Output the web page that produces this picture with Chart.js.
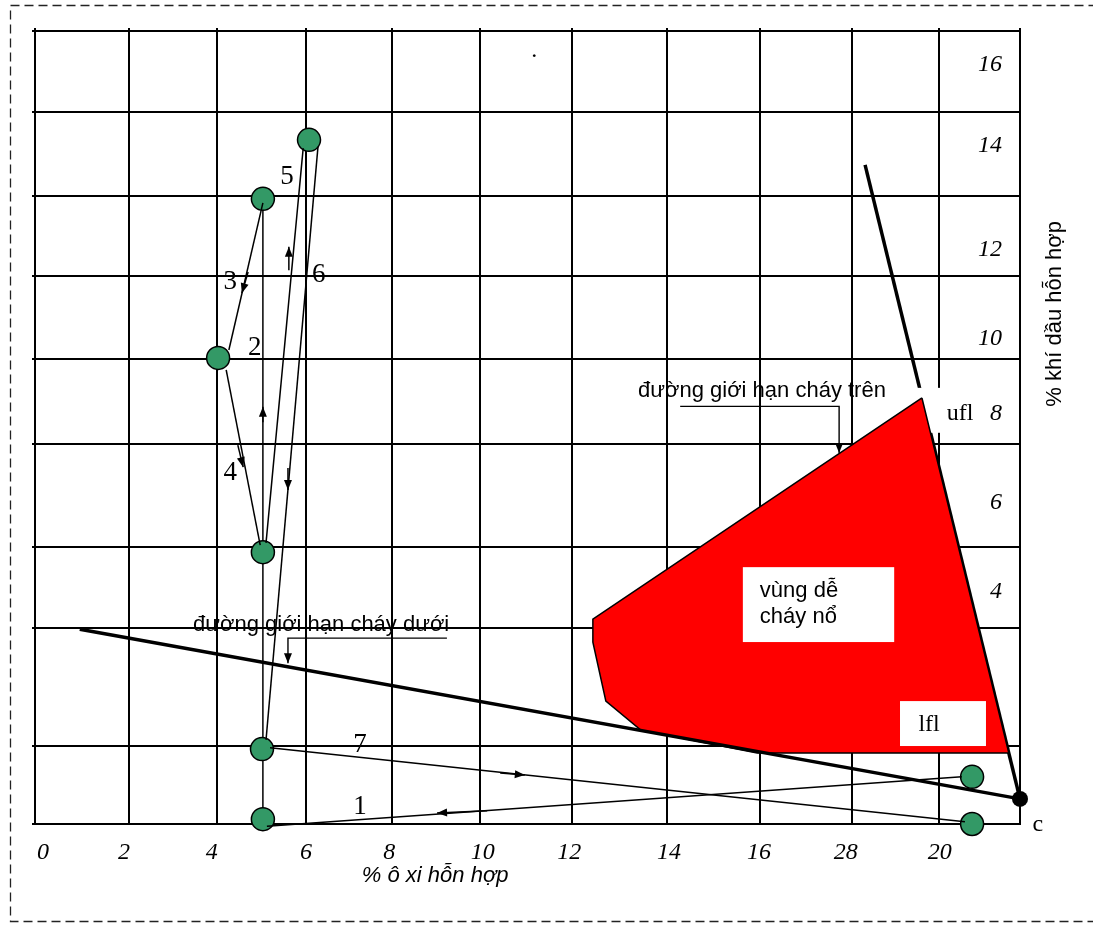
<!DOCTYPE html>
<html>
<head>
<meta charset="utf-8">
<script src="https://cdn.jsdelivr.net/npm/chart.js@4.4.1/dist/chart.umd.min.js"></script>
<style>
  html, body { margin: 0; padding: 0; background: #fff; }
  #wrap { width: 1093px; height: 927px; position: relative; }
</style>
</head>
<body>
<div id="wrap"><canvas id="chart-flam"></canvas></div>
<script>
// grid lines, in axis units, where the figure has them (uneven)
const xGridAt = [0, 2.1, 4.07, 6.05, 7.97, 9.94, 11.99, 14.12, 16.19, 18.25, 20.19, 22];
const yGridAt = [0, 1.77, 4.45, 6.29, 8.63, 10.55, 12.44, 14.25, 16.16, 18];

// tick labels, as printed (incl. the "28")
const xTickLabels = ['0', '2', '4', '6', '8', '10', '12', '14', '16', '28', '20'];
const xTickAt = [0.18, 1.99, 3.95, 6.05, 7.91, 10.0, 11.93, 14.16, 16.17, 18.11, 20.21];
const yTickLabels = ['4', '6', '8', '10', '12', '14', '16'];
const yTickAt = [5.27, 7.29, 9.31, 11.01, 13.03, 15.39, 17.23];

// mixture states (green markers)
const stateX = [5.09, 5.07, 5.09, 4.09, 5.09, 6.12, 20.93, 20.93];
const stateY = [0.11, 1.70, 6.17, 10.58, 14.19, 15.53, 1.07, 0.0];

// flammable zone outline
const zoneX = [19.81, 12.46, 12.46, 12.75, 13.53, 16.13, 21.75, 19.81];
const zoneY = [9.67, 4.65, 4.13, 2.79, 2.13, 1.61, 1.61, 9.67];

// limit lines, both run into point c
const pointC = { x: 22, y: 0.57 };
const uflStart = { x: 18.54, y: 14.96 };
const lflStart = { x: 1.0, y: 4.42 };

// process path, steps 1..7 (from -> to)
const stepFromX = [20.70, 5.09, 5.09, 4.27, 5.16, 6.32, 5.25];
const stepFromY = [1.07, 0.11, 14.10, 10.31, 6.38, 15.37, 1.73];
const stepToX = [5.18, 5.09, 4.33, 5.03, 5.99, 5.16, 20.77];
const stepToY = [-0.05, 14.19, 10.76, 6.33, 15.34, 1.91, 0.05];

// direction arrows on the path (tail -> tip)
const arrowTailX = [10.10, 5.09, 4.76, 4.53, 5.67, 5.65, 10.39];
const arrowTailY = [0.30, 9.12, 12.53, 8.60, 12.57, 8.08, 1.16];
const arrowTipX = [8.98, 5.09, 4.62, 4.65, 5.67, 5.65, 10.94];
const arrowTipY = [0.25, 9.47, 12.05, 8.10, 13.10, 7.58, 1.11];

const SERIF = '"Liberation Serif", "Times New Roman", serif';
const SANS = '"Liberation Sans", Arial, sans-serif';

// step numbers and other annotations
const notes = [
    { t: '1', x: 7.26, y: 0.39, font: '27px ' + SERIF },
    { t: '2', x: 4.91, y: 10.80, font: '27px ' + SERIF },
    { t: '3', x: 4.36, y: 12.30, font: '27px ' + SERIF },
    { t: '4', x: 4.36, y: 7.97, font: '27px ' + SERIF },
    { t: '5', x: 5.63, y: 14.69, font: '27px ' + SERIF },
    { t: '6', x: 6.34, y: 12.46, font: '27px ' + SERIF },
    { t: '7', x: 7.26, y: 1.79, font: '27px ' + SERIF },
    { t: 'ufl', x: 20.66, y: 9.31, font: '24px ' + SERIF },
    { t: 'lfl', x: 19.97, y: 2.25, font: '24px ' + SERIF },
    { t: 'c', x: 22.40, y: -0.02, font: '24px ' + SERIF },
    { t: '.', x: 11.15, y: 17.41, font: '24px ' + SERIF, align: 'center', base: 'alphabetic' },
    { t: 'đường giới hạn cháy trên', x: 13.47, y: 9.69, font: '22px ' + SANS, align: 'left', base: 'alphabetic' },
    { t: 'đường giới hạn cháy dưới', x: 3.53, y: 4.38, font: '22px ' + SANS, align: 'left', base: 'alphabetic' },
    { t: 'vùng dễ', x: 16.19, y: 5.15, font: '22px ' + SANS, align: 'left', base: 'alphabetic' },
    { t: 'cháy nổ', x: 16.19, y: 4.56, font: '22px ' + SANS, align: 'left', base: 'alphabetic' },
    { t: '% ô xi hỗn hợp', x: 7.30, y: -1.32, font: 'italic 22px ' + SANS, align: 'left', base: 'alphabetic' },
    { t: '% khí dầu hỗn hợp', x: 22.92, y: 11.58, font: '22px ' + SANS, align: 'center', base: 'alphabetic', rot: -Math.PI / 2 },
];

// white label boxes [x1, y1, x2, y2]
const uflBox = [19.70, 9.90, 21.29, 8.88];
const zoneBoxes = [[15.81, 5.83, 19.19, 4.13], [19.32, 2.79, 21.24, 1.77]];

// callouts pointing at the two limit lines
const callouts = [
    [[14.41, 9.48], [17.96, 9.48], [17.96, 8.42]],
    [[9.20, 4.22], [5.65, 4.22], [5.65, 3.65]],
];

function toPx(chart, x, y) {
    return [chart.scales.x.getPixelForValue(x), chart.scales.y.getPixelForValue(y)];
}

function arrowHead(ctx, x0, y0, x1, y1, len, half) {
    const a = Math.atan2(y1 - y0, x1 - x0);
    const bx = x1 - len * Math.cos(a);
    const by = y1 - len * Math.sin(a);
    ctx.beginPath();
    ctx.moveTo(x1, y1);
    ctx.lineTo(bx + half * Math.sin(a), by - half * Math.cos(a));
    ctx.lineTo(bx - half * Math.sin(a), by + half * Math.cos(a));
    ctx.closePath();
    ctx.fill();
}

function whiteBox(chart, b) {
    const [x1, y1] = toPx(chart, b[0], b[1]);
    const [x2, y2] = toPx(chart, b[2], b[3]);
    chart.ctx.fillStyle = '#fff';
    chart.ctx.fillRect(x1, y1, x2 - x1, y2 - y1);
}

const diagramPlugin = {
    id: 'diagram',
    beforeDraw(chart) {
        const ctx = chart.ctx;
        ctx.save();
        ctx.strokeStyle = '#222';
        ctx.lineWidth = 1.3;
        ctx.setLineDash([9, 5]);
        ctx.strokeRect(10.5, 5.5, 1100, 916);
        ctx.restore();
    },
    afterDatasetDraw(chart, args) {
        const label = chart.data.datasets[args.index].label;
        const ctx = chart.ctx;
        ctx.save();
        if (label === 'upper limit') whiteBox(chart, uflBox);
        if (label === 'flammable zone') zoneBoxes.forEach(b => whiteBox(chart, b));
        ctx.restore();
    },
    afterDatasetsDraw(chart) {
        const ctx = chart.ctx;
        ctx.save();
        ctx.fillStyle = '#000';
        ctx.strokeStyle = '#000';

        // path arrows
        ctx.lineWidth = 1.5;
        arrowTipX.forEach((_, i) => {
            const [x0, y0] = toPx(chart, arrowTailX[i], arrowTailY[i]);
            const [x1, y1] = toPx(chart, arrowTipX[i], arrowTipY[i]);
            ctx.beginPath();
            ctx.moveTo(x0, y0);
            ctx.lineTo(x1, y1);
            ctx.stroke();
            arrowHead(ctx, x0, y0, x1, y1, 10, 4);
        });

        // callouts
        ctx.lineWidth = 1.4;
        callouts.forEach(pts => {
            const p = pts.map(q => toPx(chart, q[0], q[1]));
            ctx.beginPath();
            p.forEach((q, i) => (i ? ctx.lineTo(q[0], q[1]) : ctx.moveTo(q[0], q[1])));
            ctx.stroke();
            const n = p.length;
            arrowHead(ctx, p[n - 2][0], p[n - 2][1], p[n - 1][0], p[n - 1][1], 10, 4);
        });

        // texts
        notes.forEach(n => {
            const [x, y] = toPx(chart, n.x, n.y);
            ctx.save();
            ctx.font = n.font;
            ctx.textAlign = n.align || 'center';
            ctx.textBaseline = n.base || 'middle';
            ctx.translate(x, y);
            if (n.rot) ctx.rotate(n.rot);
            ctx.fillText(n.t, 0, 0);
            ctx.restore();
        });
        ctx.restore();
    },
};

function pts(xs, ys) {
    return xs.map((x, i) => ({ x: x, y: ys[i] }));
}

const lineDefaults = { xAxisID: 'x', yAxisID: 'y', pointRadius: 0, fill: false, clip: false, tension: 0, borderColor: '#000' };

const datasets = [
    Object.assign({}, lineDefaults, { label: 'upper limit', data: [uflStart, pointC], borderWidth: 3.5, order: 20 }),
    Object.assign({}, lineDefaults, {
        label: 'flammable zone', data: pts(zoneX, zoneY), borderWidth: 1.5,
        backgroundColor: '#ff0000', fill: 'shape', order: 19,
    }),
    Object.assign({}, lineDefaults, { label: 'lower limit', data: [lflStart, pointC], borderWidth: 3.5, order: 18 }),
    Object.assign({}, lineDefaults, {
        label: 'step 2', data: [{ x: stepFromX[1], y: stepFromY[1] }, { x: stepToX[1], y: stepToY[1] }],
        borderWidth: 1.5, order: 17,
    }),
    Object.assign({}, lineDefaults, {
        label: 'states', data: pts(stateX, stateY), showLine: false,
        pointRadius: 11.5, pointBackgroundColor: '#339966', pointBorderColor: '#000', pointBorderWidth: 1.5,
        order: 16,
    }),
];

stepFromX.forEach((_, i) => {
    if (i === 1) return;
    datasets.push(Object.assign({}, lineDefaults, {
        label: 'step ' + (i + 1),
        data: [{ x: stepFromX[i], y: stepFromY[i] }, { x: stepToX[i], y: stepToY[i] }],
        borderWidth: 1.5, order: 10 - i,
    }));
});

datasets.push(Object.assign({}, lineDefaults, {
    label: 'c', data: [pointC], showLine: false,
    pointRadius: 8, pointBackgroundColor: '#000', pointBorderColor: '#000', pointBorderWidth: 0, order: 0,
}));

const gridTicks = arr => s => { s.ticks = arr.map(v => ({ value: v })); };

const chart = new Chart(document.getElementById('chart-flam'), {
    type: 'line',
    data: { datasets: datasets },
    options: {
        responsive: true,
        maintainAspectRatio: false,
        devicePixelRatio: 1,
        animation: false,
        events: [],
        layout: { padding: 0 },
        plugins: {
            legend: { display: false },
            tooltip: { enabled: false },
        },
        scales: {
            x: {
                type: 'linear', position: 'bottom', min: 0, max: 22,
                afterBuildTicks: gridTicks(xGridAt),
                afterFit: s => { s.height = 0; },
                grid: { color: '#000', lineWidth: 2, drawTicks: false },
                border: { color: '#000', width: 2 },
                ticks: { display: false },
            },
            xLab: {
                type: 'linear', position: 'bottom', min: 0, max: 22,
                afterBuildTicks: gridTicks(xTickAt),
                afterFit: s => { s.height = 103; },
                grid: { display: false, drawTicks: false },
                border: { display: false },
                ticks: {
                    autoSkip: false, maxRotation: 0, minRotation: 0, padding: 14, color: '#000',
                    font: { family: SERIF, size: 24, style: 'italic' },
                    callback: (v, i) => xTickLabels[i],
                },
            },
            xTop: {
                type: 'linear', position: 'top', min: 0, max: 22,
                afterBuildTicks: gridTicks(xGridAt),
                afterFit: s => { s.height = 31; },
                grid: { color: '#000', lineWidth: 2, drawOnChartArea: false, tickLength: 3 },
                border: { color: '#000', width: 2 },
                ticks: { display: false },
            },
            y: {
                type: 'linear', position: 'left', min: 0, max: 18,
                afterBuildTicks: gridTicks(yGridAt),
                afterFit: s => { s.width = 35; },
                grid: { color: '#000', lineWidth: 2, tickLength: 3 },
                border: { color: '#000', width: 2 },
                ticks: { display: false },
            },
            yLab: {
                type: 'linear', position: 'right', min: 0, max: 18,
                afterBuildTicks: gridTicks(yTickAt),
                afterFit: s => { s.width = 73; },
                grid: { display: false, drawTicks: false },
                border: { display: false },
                ticks: {
                    mirror: true, padding: -18, color: '#000',
                    font: { family: SERIF, size: 24, style: 'italic' },
                    callback: (v, i) => yTickLabels[i],
                },
            },
        },
    },
    plugins: [diagramPlugin],
});
</script>
</body>
</html>
